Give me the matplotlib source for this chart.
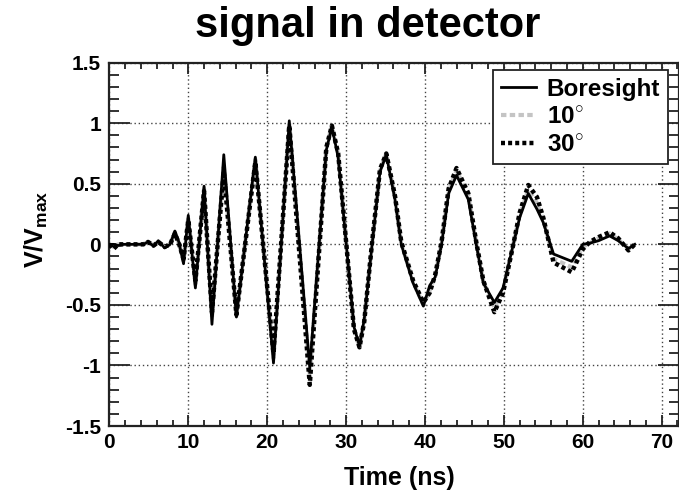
import matplotlib
matplotlib.use("Agg")
import matplotlib.pyplot as plt
from matplotlib.ticker import MultipleLocator

plt.rcParams['font.family'] = ['Liberation Sans', 'DejaVu Sans']
plt.rcParams['font.weight'] = 'bold'
plt.rcParams['axes.unicode_minus'] = False
plt.rcParams['mathtext.fontset'] = 'custom'
plt.rcParams['mathtext.rm'] = 'Liberation Sans'
plt.rcParams['mathtext.bf'] = 'Liberation Sans:bold'

# time samples (ns)
time_ns = [0.0, 0.5, 1.1, 1.8, 3.0, 4.3, 4.9, 5.6, 6.2, 7.0,
           7.7, 8.3, 8.8, 9.4, 10.0, 10.9, 12.0, 13.0, 14.5, 16.1,
           18.5, 20.8, 22.8, 25.4, 27.5, 28.2, 29.0, 31.0, 31.7, 32.3,
           33.3, 34.3, 35.1, 36.2,
           37.0, 38.5, 39.8, 40.6, 41.3, 42.1, 43.0, 44.0, 45.5, 46.5,
           47.4, 48.8, 49.9, 51.2, 52.0, 53.1, 54.2, 55.0, 56.3, 58.6,
           60.0, 60.9, 62.0, 63.4, 64.5, 65.8, 66.6]

boresight = [0.00, 0.00, -0.01, 0.00, 0.00, 0.00, 0.02, -0.015, 0.03, -0.03,
             0.00, 0.11, 0.02, -0.16, 0.24, -0.36, 0.48, -0.66, 0.74, -0.60,
             0.72, -0.98, 1.02, -1.02, 0.78, 0.97, 0.72, -0.68, -0.84, -0.62,
             0.00, 0.60, 0.74, 0.37,
             0.00, -0.32, -0.51, -0.34, -0.27, 0.00, 0.42, 0.57, 0.37, 0.00,
             -0.32, -0.48, -0.36, 0.00, 0.22, 0.42, 0.29, 0.18, -0.08, -0.14,
             0.00, 0.01, 0.03, 0.07, 0.03, -0.035, 0.00]

deg10 = [0.00, -0.02, 0.00, 0.00, 0.00, 0.00, 0.02, -0.01, 0.02, -0.02,
         0.00, 0.10, 0.01, -0.14, 0.22, -0.33, 0.46, -0.60, 0.64, -0.59,
         0.70, -0.94, 1.00, -1.08, 0.80, 0.98, 0.74, -0.70, -0.85, -0.63,
         0.01, 0.61, 0.75, 0.39,
         0.01, -0.31, -0.50, -0.38, -0.26, 0.01, 0.44, 0.61, 0.40, 0.01,
         -0.31, -0.52, -0.38, 0.00, 0.24, 0.45, 0.34, 0.20, -0.12, -0.19,
         -0.02, 0.01, 0.05, 0.09, 0.04, -0.04, 0.00]

deg30 = [0.00, -0.04, 0.00, 0.00, 0.00, 0.00, 0.02, -0.01, 0.02, -0.02,
         0.00, 0.09, 0.01, -0.12, 0.20, -0.30, 0.44, -0.56, 0.60, -0.58,
         0.68, -0.90, 0.98, -1.16, 0.80, 0.98, 0.75, -0.70, -0.85, -0.64,
         0.02, 0.62, 0.75, 0.40,
         0.02, -0.30, -0.48, -0.40, -0.25, 0.02, 0.46, 0.63, 0.42, 0.02,
         -0.30, -0.56, -0.40, 0.00, 0.26, 0.49, 0.39, 0.22, -0.15, -0.23,
         -0.04, 0.02, 0.06, 0.10, 0.05, -0.05, 0.00]

xticks = [0, 10, 20, 30, 40, 50, 60, 70]
xtick_labels = ['0', '10', '20', '30', '40', '50', '60', '70']
yticks = [-1.5, -1, -0.5, 0, 0.5, 1, 1.5]
ytick_labels = ['-1.5', '-1', '-0.5', '0', '0.5', '1', '1.5']

fig = plt.figure(figsize=(6.79, 4.92), dpi=100)
ax = fig.add_axes([0.1611, 0.1341, 0.8389, 0.7385])

l10, = ax.plot(time_ns, deg10, color='#c4c4c4', lw=3.0,
               linestyle=(0, (1.3, 0.8)), label='10$^{\\circ}$', zorder=2)
lb, = ax.plot(time_ns, boresight, color='black', lw=2.0,
              linestyle='-', label='Boresight', zorder=3)
l30, = ax.plot(time_ns, deg30, color='black', lw=3.2,
               linestyle=(0, (0.9, 0.7)), label='30$^{\\circ}$', zorder=4)

ax.set_xlim(0, 72.2)
ax.set_ylim(-1.5, 1.5)
ax.set_xticks(xticks)
ax.set_xticklabels(xtick_labels)
ax.set_yticks(yticks)
ax.set_yticklabels(ytick_labels)
ax.xaxis.set_minor_locator(MultipleLocator(2))
ax.yaxis.set_minor_locator(MultipleLocator(0.1))

ax.tick_params(axis='both', which='both', direction='in', top=True, right=True,
               labelsize=15, width=1.3, colors='#222222')
ax.tick_params(axis='x', which='major', length=8, pad=5)
ax.tick_params(axis='x', which='minor', length=4.5)
ax.tick_params(axis='y', which='major', length=15, pad=6)
ax.tick_params(axis='y', which='minor', length=7)
for lab in ax.get_xticklabels() + ax.get_yticklabels():
    lab.set_fontweight('bold')
    lab.set_color('black')

for sp in ax.spines.values():
    sp.set_linewidth(1.6)
    sp.set_color('#222222')

ax.grid(True, which='major', linestyle=(0, (1, 2)), color='#444444', lw=1.0)

fig.text(0.541, 0.925, 'signal in detector', ha='center', va='baseline',
         fontsize=30, fontweight='bold')
fig.text(0.5887, 0.0142, 'Time (ns)', ha='center', va='baseline',
         fontsize=18, fontweight='bold')
fig.text(0.053, 0.535, 'V/V$_{\\mathrm{max}}$', ha='center', va='center',
         rotation=90, fontsize=18, fontweight='bold')

leg = ax.legend(handles=[lb, l10, l30], loc='upper right',
                bbox_to_anchor=(0.9838, 0.8577), bbox_transform=fig.transFigure,
                borderaxespad=0, fancybox=False, framealpha=1, edgecolor='#222222',
                prop={'weight': 'bold', 'size': 17.5}, handlelength=1.45,
                handletextpad=0.45, labelspacing=0.2, borderpad=0.32)
leg.get_frame().set_linewidth(1.3)

fig.savefig('out.png', dpi=100)
